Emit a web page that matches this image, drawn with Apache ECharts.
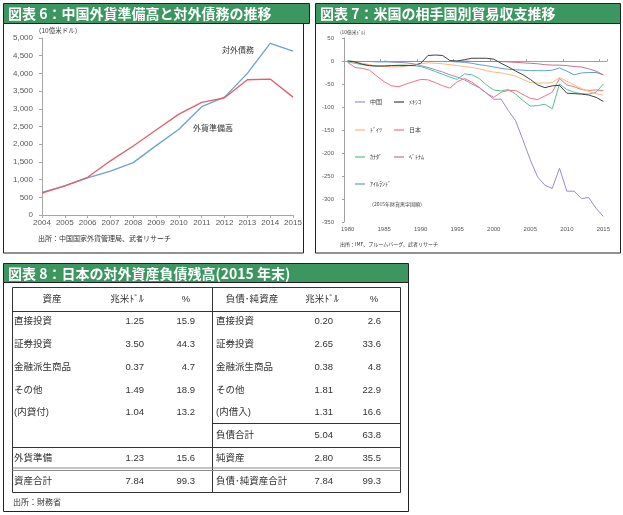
<!DOCTYPE html>
<html><head><meta charset="utf-8">
<script src="https://cdn.jsdelivr.net/npm/echarts@6/dist/echarts.min.js"></script>
<style>html,body{margin:0;padding:0;background:#fff}#c{width:623px;height:515px}</style>
</head><body><div id="c"></div>
<script>
// ---------- 図表6 data ----------
const years6 = ['2004','2005','2006','2007','2008','2009','2010','2011','2012','2013','2014','2015'];
const reserves6 = [615, 820, 1066, 1530, 1950, 2400, 2850, 3180, 3310, 3820, 3840, 3330];
const debt6 = [640, 820, 1050, 1240, 1480, 1960, 2420, 3060, 3330, 4000, 4850, 4630];

// ---------- 図表7 data (1980-2015) ----------
const years7 = ['1980','1981','1982','1983','1984','1985','1986','1987','1988','1989','1990','1991','1992','1993','1994','1995','1996','1997','1998','1999','2000','2001','2002','2003','2004','2005','2006','2007','2008','2009','2010','2011','2012','2013','2014','2015'];
const china7 = [null,null,null,null,null,0,-2,-3,-4,-6,-10,-14,-19,-24,-30,-35,-41,-50,-58,-70,-83,-83,-108,-130,-172,-215,-252,-270,-277,-233,-283,-283,-299,-297,-320,-338];
const mexico7 = [0,-2,-7,-10,-11,-11,-10,-10,-10,-10,-5,12,13,12,1,0,3,6,6,6,4,-5,-13,-22,-30,-40,-52,-58,-54,-53,-70,-71,-72,-74,-79,-88];
const germany7 = [-1,-3,-5,-8,-11,-12,-13,-13,-11,-8,-6,-4,-5,-6,-8,-10,-12,-14,-17,-21,-24,-26,-29,-33,-40,-47,-48,-48,-47,-36,-44,-52,-60,-66,-71,-74];
const japan7 = [-3,-14,-16,-20,-33,-45,-54,-56,-50,-45,-40,-41,-47,-54,-59,-45,-38,-46,-57,-70,-79,-68,-64,-64,-73,-81,-84,-76,-68,-38,-52,-56,-62,-64,-63,-64];
const canada7 = [-2,-5,-8,-10,-11,-11,-10,-9,-9,-10,-12,-17,-23,-29,-35,-40,-28,-30,-38,-52,-63,-65,-62,-72,-86,-98,-97,-94,-104,-50,-62,-68,-71,-72,-68,-50];
const vietnam7 = [null,null,null,null,null,null,null,null,null,null,null,null,null,null,null,0,0,-1,-1,-1,-1,-1,-2,-3,-4,-5,-6,-8,-9,-9,-10,-12,-13,-17,-22,-30];
const ireland7 = [0,-1,-1,-1,-2,-2,-2,-2,-1,-1,-1,-1,-1,-1,-1,-2,-3,-5,-8,-10,-13,-16,-18,-19,-20,-21,-21,-21,-20,-15,-22,-30,-26,-25,-25,-30];
const countries7 = ['中国','ﾒｷｼｺ','ﾄﾞｲﾂ','日本','ｶﾅﾀﾞ','ﾍﾞﾄﾅﾑ','ｱｲﾙﾗﾝﾄﾞ'];

// ---------- 図表8 data ----------
const tableHeaders = ['資産','兆米ﾄﾞﾙ','%','負債･純資産','兆米ﾄﾞﾙ','%'];
const assetLabels = ['直接投資','証券投資','金融派生商品','その他','(内貸付)','','外貨準備','資産合計'];
const assetTrillionUSD = [1.25,3.50,0.37,1.49,1.04,null,1.23,7.84];
const assetPct = [15.9,44.3,4.7,18.9,13.2,null,15.6,99.3];
const liabLabels = ['直接投資','証券投資','金融派生商品','その他','(内借入)','負債合計','純資産','負債･純資産合計'];
const liabTrillionUSD = [0.20,2.65,0.38,1.81,1.31,5.04,2.80,7.84];
const liabPct = [2.6,33.6,4.8,22.9,16.6,63.8,35.5,99.3];

// ---------- styling ----------
const FONT = '"Liberation Sans", Arial, "Noto Sans CJK JP", sans-serif';
const JFONT = '"Noto Sans CJK JP", sans-serif';
const GREEN = '#3b9660';
const AX = '#a6a6a6';
const LBL = '#595959';
const colors7 = ['#a088c8','#404040','#f9b97c','#ec7480','#52c493','#c4728f','#5f9fd6'];
const data7 = [china7, mexico7, germany7, japan7, canada7, vietnam7, ireland7];

const els = [];
function txt(x, y, text, size, o) {
  o = o || {};
  const al = o.align || 'left';
  els.push({type:'text', x:x, y:y, silent:true, z:10,
    style:{text:text, fill:o.fill || '#333', fontSize:size, fontFamily:o.font || FONT,
      fontWeight:o.weight || 'normal', align:al, textAlign:al,
      verticalAlign:'middle', textVerticalAlign:'middle'}});
}
function ln(x1, y1, x2, y2, c, w) {
  els.push({type:'line', silent:true, z:10, shape:{x1:x1,y1:y1,x2:x2,y2:y2}, style:{stroke:c || '#333', lineWidth:w || 1}});
}
function rc(x, y, w, h, fill, stroke) {
  els.push({type:'rect', silent:true, z:1, shape:{x:x,y:y,width:w,height:h}, style:{fill:fill || 'none', stroke:stroke || 'none', lineWidth:1}});
}

// panel frames and titles
rc(3.5, 3.5, 306, 20, GREEN, '#222');
rc(3.5, 23.5, 300, 229.5, null, '#222');
txt(8, 14, '図表 6：中国外貨準備高と対外債務の推移', 14, {fill:'#fff', weight:'bold', font:JFONT});
rc(315.5, 3.5, 305, 20, GREEN, '#222');
rc(315.5, 23.5, 305, 229.5, null, '#222');
txt(320, 14, '図表 7：米国の相手国別貿易収支推移', 14, {fill:'#fff', weight:'bold', font:JFONT});
rc(3.5, 263.5, 405, 19, GREEN, '#222');
rc(3.5, 282.5, 405, 229, null, '#222');
txt(8, 273.5, '図表 8：日本の対外資産負債残高(2015 年末)', 14, {fill:'#fff', weight:'bold', font:JFONT});

// chart 6 texts
txt(35, 31, '（10億米ドル）', 6.5, {font:JFONT, fill:'#404040'});
txt(222, 50, '対外債務', 8, {font:JFONT, fill:'#333'});
txt(193, 128, '外貨準備高', 8, {font:JFONT, fill:'#333'});
txt(38, 238, '出所：中国国家外貨管理局、武者リサーチ', 7, {font:JFONT, fill:'#333'});

// chart 7 texts
txt(340, 32, '(10億米ﾄﾞﾙ)', 4.8, {font:JFONT, fill:'#404040'});
txt(369, 204, '（2015年財貨黒字国順）', 5, {font:JFONT, fill:'#404040'});
txt(340, 244, '出所：IMF、ブルームバーグ、武者リサーチ', 5, {font:JFONT, fill:'#333'});

// table
const TL = 12.5, TR = 400.5, TT = 287.5, TB = 492.5, TD = 212.5;
rc(TL, TT, TR - TL, TB - TT, null, '#333');
ln(TD, TT, TD, TB, '#333');
ln(TL, 311.5, TR, 311.5, '#333');
ln(TD, 423.5, TR, 423.5, '#333');
ln(TL, 447.5, TR, 447.5, '#333');
ln(TL, 468, TR, 468, '#888');
ln(TL, 470.5, TR, 470.5, '#888');
const headX = [52, 127, 186, 252, 322, 374];
tableHeaders.forEach((h, i) => txt(headX[i], 299, h, 9.5, {align:'center', font:FONT}));
const rowY = [321, 344, 367, 390, 412, 435, 458, 481];
rowY.forEach((y, i) => {
  if (assetLabels[i]) txt(14, y, assetLabels[i], 9.5, {font:FONT});
  if (assetTrillionUSD[i] != null) txt(144, y, assetTrillionUSD[i].toFixed(2), 9.5, {align:'right'});
  if (assetPct[i] != null) txt(195, y, assetPct[i].toFixed(1), 9.5, {align:'right'});
  txt(216, y, liabLabels[i], 9.5, {font:FONT});
  txt(333, y, liabTrillionUSD[i].toFixed(2), 9.5, {align:'right'});
  txt(381, y, liabPct[i].toFixed(1), 9.5, {align:'right'});
});
txt(13, 502, '出所：財務省', 8, {font:JFONT});

// chart 7 legend rows
const legendRows = [['中国','ﾒｷｼｺ'],['ﾄﾞｲﾂ','日本'],['ｶﾅﾀﾞ','ﾍﾞﾄﾅﾑ'],['ｱｲﾙﾗﾝﾄﾞ']];
const legendTops = [99, 127, 154, 181];

const option = {
  animation: false,
  textStyle: {fontFamily: FONT},
  grid: [
    {left: 42, top: 38, width: 251, height: 177, outerBoundsMode: 'none'},
    {left: 344, top: 38, width: 263, height: 184, outerBoundsMode: 'none'}
  ],
  xAxis: [
    {gridIndex: 0, type: 'category', data: years6, boundaryGap: false,
      axisLine: {lineStyle: {color: AX}}, axisTick: {show: true, length: 3, lineStyle: {color: AX}},
      axisLabel: {interval: 0, fontSize: 8, color: LBL, margin: 4, fontFamily: FONT}, splitLine: {show: false}},
    {gridIndex: 1, type: 'category', data: years7, boundaryGap: true, position: 'bottom',
      axisLine: {show: false, onZero: false}, axisTick: {show: false},
      axisLabel: {interval: 4, fontSize: 6, color: LBL, margin: 4, fontFamily: FONT}, splitLine: {show: false}},
    {gridIndex: 1, type: 'category', data: years7, boundaryGap: true, position: 'top',
      axisLine: {show: true, onZero: true, lineStyle: {color: '#a0a0a0'}},
      axisTick: {show: true, interval: 4, length: 2, lineStyle: {color: '#a0a0a0'}},
      axisLabel: {show: false}, splitLine: {show: false}}
  ],
  yAxis: [
    {gridIndex: 0, type: 'value', min: 0, max: 5000, interval: 500,
      axisLine: {show: true, lineStyle: {color: AX}}, axisTick: {show: true, length: 3, lineStyle: {color: AX}},
      axisLabel: {fontSize: 8, color: LBL, margin: 9, fontFamily: FONT, formatter: v => v.toLocaleString('en-US')},
      splitLine: {show: false}},
    {gridIndex: 1, type: 'value', min: -350, max: 50, interval: 50,
      axisLine: {show: true, lineStyle: {color: '#a0a0a0'}}, axisTick: {show: true, length: 2, lineStyle: {color: '#a0a0a0'}},
      axisLabel: {fontSize: 6, color: LBL, margin: 10, fontFamily: FONT},
      splitLine: {show: false}}
  ],
  legend: legendRows.map((row, i) => ({
    data: row, left: 355, top: legendTops[i], orient: 'horizontal', itemGap: 12,
    itemWidth: 10, itemHeight: 1.2, icon: 'rect', padding: 0, selectedMode: false,
    textStyle: {fontSize: 6, color: '#404040', fontFamily: JFONT}
  })),
  series: [
    {type: 'line', name: '対外債務', xAxisIndex: 0, yAxisIndex: 0, data: debt6, symbol: 'none',
      lineStyle: {color: '#6aa4c8', width: 1.3}, itemStyle: {color: '#6aa4c8'}},
    {type: 'line', name: '外貨準備高', xAxisIndex: 0, yAxisIndex: 0, data: reserves6, symbol: 'none',
      lineStyle: {color: '#e35d6a', width: 1.3}, itemStyle: {color: '#e35d6a'}}
  ].concat(countries7.map((name, i) => ({
    type: 'line', name: name, xAxisIndex: 1, yAxisIndex: 1, data: data7[i], symbol: 'none',
    connectNulls: false, lineStyle: {color: colors7[i], width: 1}, itemStyle: {color: colors7[i]}
  })).reverse()),
  graphic: {elements: els}
};

const chart = echarts.init(document.getElementById('c'), null, {renderer: 'canvas', width: 623, height: 515});
chart.setOption(option);
</script>
</body></html>
